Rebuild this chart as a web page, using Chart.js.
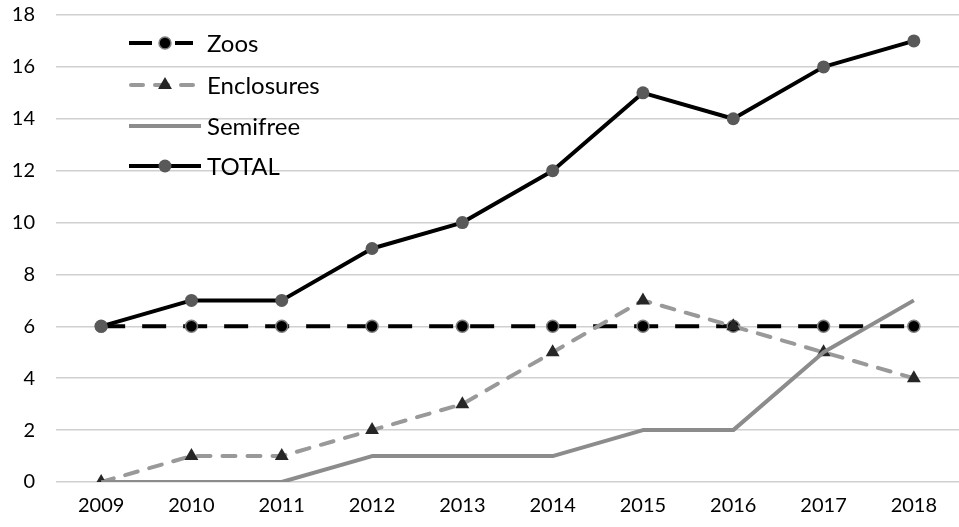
<!DOCTYPE html>
<html lang="en">
  <head>
    <meta charset="UTF-8" />
    <title>Zoos, enclosures and semifree</title>
    <script src="https://cdn.jsdelivr.net/npm/chart.js@4.4.1/dist/chart.umd.min.js"></script>
    <style>
      html,
      body {
        margin: 0;
        padding: 0;
        background: #ffffff;
        overflow: hidden;
      }
      canvas {
        display: block;
      }
    </style>
  </head>
  <body>
    <canvas id="myChart" width="959" height="527"></canvas>

    <script>
      const years = ["2009", "2010", "2011", "2012", "2013", "2014", "2015", "2016", "2017", "2018"];
      const zoos = [6, 6, 6, 6, 6, 6, 6, 6, 6, 6];
      const enclosures = [0, 1, 1, 2, 3, 5, 7, 6, 5, 4];
      const semifree = [0, 0, 0, 1, 1, 1, 2, 2, 5, 7];
      const total = [6, 7, 7, 9, 10, 12, 15, 14, 16, 17];
      const yTicks = [0, 2, 4, 6, 8, 10, 12, 14, 16, 18];

      const FONT = "Lato, 'Open Sans', sans-serif";

      function drawMarker(ctx, ds, x, y) {
        ctx.fillStyle = ds.pointBackgroundColor;
        ctx.strokeStyle = ds.pointBorderColor;
        ctx.lineWidth = ds.pointBorderWidth;
        ctx.beginPath();
        if (ds.pointStyle === "triangle") {
          const s = ds.pointRadius;
          ctx.moveTo(x, y - s);
          ctx.lineTo(x + s * 0.87, y + s * 0.5);
          ctx.lineTo(x - s * 0.87, y + s * 0.5);
          ctx.closePath();
        } else {
          ctx.arc(x, y, ds.pointRadius, 0, Math.PI * 2);
        }
        ctx.fill();
        if (ds.pointBorderWidth) ctx.stroke();
      }

      // legend drawn inside the plot, top left, like the spreadsheet one
      const insideLegend = {
        id: "insideLegend",
        afterDatasetsDraw(chart) {
          const ctx = chart.ctx;
          const mx = 165, tx = 207;
          const rows = [43, 85, 126, 166];
          // line pieces for each sample
          const pieces = [
            [[129, 152], [175, 193]],
            [[131, 143], [155, 168], [181, 193]],
            [[129, 201]],
            [[129, 201]],
          ];
          ctx.save();
          chart.data.datasets.forEach((ds, i) => {
            const y = rows[i];
            ctx.strokeStyle = ds.borderColor;
            ctx.lineWidth = ds.borderWidth;
            ctx.lineCap = ds.borderCapStyle || "butt";
            pieces[i].forEach(([a, b]) => {
              ctx.beginPath();
              ctx.moveTo(a, y);
              ctx.lineTo(b, y);
              ctx.stroke();
            });
            if (ds.pointRadius > 0) drawMarker(ctx, ds, mx, y);
            ctx.fillStyle = "#000000";
            ctx.font = "24px " + FONT;
            ctx.textBaseline = "middle";
            ctx.textAlign = "left";
            ctx.fillText(ds.label, tx, y + 1);
          });
          ctx.restore();
        },
      };

      const ctx = document.getElementById("myChart").getContext("2d");
      const myChart = new Chart(ctx, {
        type: "line",
        data: {
          labels: years,
          datasets: [
            {
              label: "Zoos",
              data: zoos,
              borderColor: "#000000",
              borderWidth: 4,
              borderDash: [24, 17],
              pointStyle: "circle",
              pointRadius: 6,
              pointBackgroundColor: "#000000",
              pointBorderColor: "#7f7f7f",
              pointBorderWidth: 1.5,
              order: 4,
            },
            {
              label: "Enclosures",
              data: enclosures,
              borderColor: "#999999",
              borderWidth: 4,
              borderDash: [13, 12],
              borderCapStyle: "round",
              pointStyle: "triangle",
              pointRadius: 8,
              pointBackgroundColor: "#262626",
              pointBorderColor: "#262626",
              pointBorderWidth: 0,
              order: 3,
            },
            {
              label: "Semifree",
              data: semifree,
              borderColor: "#8c8c8c",
              borderWidth: 4,
              pointRadius: 0,
              order: 2,
            },
            {
              label: "TOTAL",
              data: total,
              borderColor: "#000000",
              borderWidth: 4,
              pointStyle: "circle",
              pointRadius: 6.5,
              pointBackgroundColor: "#595959",
              pointBorderColor: "#595959",
              pointBorderWidth: 0,
              order: 1,
            },
          ],
        },
        options: {
          responsive: false,
          animation: false,
          devicePixelRatio: 1,
          layout: {
            autoPadding: false,
            padding: { top: 15, right: 0, bottom: 0, left: 1 },
          },
          elements: {
            line: { tension: 0, borderJoinStyle: "round" },
          },
          scales: {
            x: {
              offset: true,
              grid: { display: false, drawTicks: false },
              border: { display: false },
              ticks: {
                color: "#000000",
                font: { family: FONT, size: 20 },
                padding: 12,
                maxRotation: 0,
              },
              afterFit(scale) {
                scale.height = 45;
                scale.paddingLeft = 0;
                scale.paddingRight = 0;
              },
            },
            y: {
              min: 0,
              max: 18,
              afterBuildTicks(scale) {
                scale.ticks = yTicks.map((v) => ({ value: v }));
              },
              grid: {
                color: "#d0d0d0",
                lineWidth: 1.5,
                drawTicks: false,
              },
              border: { display: false },
              ticks: {
                color: "#000000",
                font: { family: FONT, size: 20 },
                padding: 21,
              },
              afterFit(scale) {
                scale.width = 55;
                scale.paddingTop = 0;
                scale.paddingBottom = 0;
              },
            },
          },
          plugins: {
            legend: { display: false },
            tooltip: { enabled: false },
          },
        },
        plugins: [insideLegend],
      });
    </script>
  </body>
</html>
